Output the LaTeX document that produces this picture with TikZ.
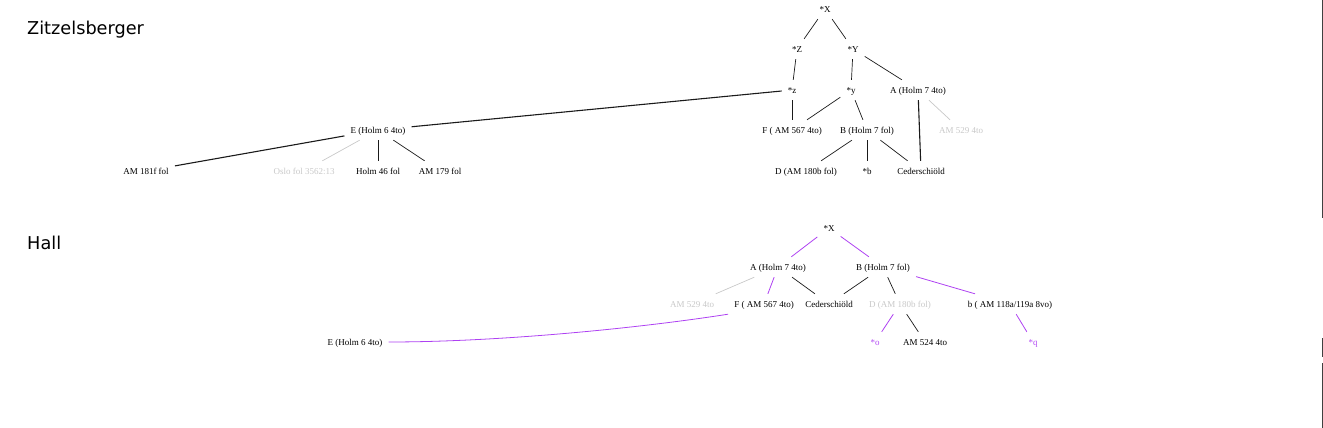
\documentclass[tikz,border=0pt]{standalone}
\usepackage{fontspec}
\setmainfont{Liberation Serif}
\newfontfamily\titlefont{DejaVu Sans}
\definecolor{hallpurple}{HTML}{A020F0}
\definecolor{faint}{HTML}{C8C8C8}
\definecolor{edgeblack}{HTML}{1A1A1A}
\definecolor{barcol}{HTML}{404040}
\begin{document}
\begin{tikzpicture}[x=1pt,y=-1pt,
  ms/.style={font=\fontsize{9}{10}\selectfont, inner xsep=6pt, inner ysep=0pt, minimum height=20pt, text height=7.5pt, text depth=1pt},
  ghost/.style={ms, text=faint},
  pms/.style={ms, text=hallpurple!80},
  ttl/.style={font=\titlefont\fontsize{17.7}{20}\selectfont, anchor=base west, inner sep=0pt},
  edge/.style={draw=edgeblack, line width=0.7pt},
  thick edge/.style={draw=edgeblack, line width=1.1pt},
  gedge/.style={draw=faint, line width=0.7pt},
  pedge/.style={draw=hallpurple!85, line width=0.8pt}
]
\useasboundingbox (0,0) rectangle (1323,428);

% titles
\node[ttl] (tz) at (27,35) {Zitzelsberger};
\node[ttl] (th) at (27,249) {Hall};

% ---------- Zitzelsberger ----------
\node[ms] (X) at (825,9) {*X};
\node[ms] (Z) at (797,49) {*Z};
\node[ms] (Y) at (853,49) {*Y};
\node[ms] (z) at (792,90) {*z};
\node[ms] (y) at (851,90) {*y};
\node[ms] (A) at (918,90) {A (Holm 7 4to)};
\node[ms] (E) at (378,130) {E (Holm 6 4to)};
\node[ms] (F) at (792,130) {F ( AM 567 4to)};
\node[ms] (B) at (867,130) {B (Holm 7 fol)};
\node[ghost] (A529) at (961,130) {AM 529 4to};
\node[ms] (A181) at (146,171) {AM 181f fol};
\node[ghost] (Oslo) at (304,171) {Oslo fol 3562:13};
\node[ms] (H46) at (378,171) {Holm 46 fol};
\node[ms] (A179) at (440,171) {AM 179 fol};
\node[ms] (D) at (806,171) {D (AM 180b fol)};
\node[ms] (b) at (867,171) {*b};
\node[ms] (C) at (921,171) {Cederschiöld};

\draw[edge] (X) -- (Z);
\draw[edge] (X) -- (Y);
\draw[edge] (Z) -- (z);
\draw[edge] (Y) -- (y);
\draw[edge] (Y) -- (A);
\draw[thick edge] (z) -- (E);
\draw[edge] (z) -- (F);
\draw[edge] (y) -- (F);
\draw[edge] (y) -- (B);
\draw[thick edge] (A) -- (C);
\draw[gedge] (A) -- (A529);
\draw[edge] (B) -- (D);
\draw[edge] (B) -- (b);
\draw[edge] (B) -- (C);
\draw[thick edge] (E) -- (A181);
\draw[gedge] (E) -- (Oslo);
\draw[edge] (E) -- (H46);
\draw[edge] (E) -- (A179);

% ---------- Hall ----------
\node[ms] (hX) at (829,228) {*X};
\node[ms] (hA) at (778,267) {A (Holm 7 4to)};
\node[ms] (hB) at (883,267) {B (Holm 7 fol)};
\node[ghost] (hA529) at (692,304) {AM 529 4to};
\node[ms] (hF) at (764,304) {F ( AM 567 4to)};
\node[ms] (hC) at (829,304) {Cederschiöld};
\node[ghost] (hD) at (900,304) {D (AM 180b fol)};
\node[ms] (hb) at (1010,304) {b ( AM 118a/119a 8vo)};
\node[ms] (hE) at (355,342) {E (Holm 6 4to)};
\node[pms] (ho) at (875,342) {*o};
\node[ms] (h524) at (925,342) {AM 524 4to};
\node[pms] (hq) at (1033,342) {*q};

\draw[pedge] (hX) -- (hA);
\draw[pedge] (hX) -- (hB);
\draw[gedge] (hA) -- (hA529);
\draw[pedge] (hA) -- (hF);
\draw[edge] (hA) -- (hC);
\draw[edge] (hB) -- (hC);
\draw[edge] (hB) -- (hD);
\draw[pedge] (hB) -- (hb);
\draw[pedge] (hF.south west) .. controls (640,328) and (500,342) .. (hE.east);
\draw[pedge] (hD) -- (ho);
\draw[edge] (hD) -- (h524);
\draw[pedge] (hb) -- (hq);

% right border bar
\draw[barcol, line width=1pt] (1322,0) -- (1322,218);
\draw[barcol, line width=1pt] (1322,338) -- (1322,357);
\draw[barcol, line width=1pt] (1322,363) -- (1322,428);
\end{tikzpicture}
\end{document}
